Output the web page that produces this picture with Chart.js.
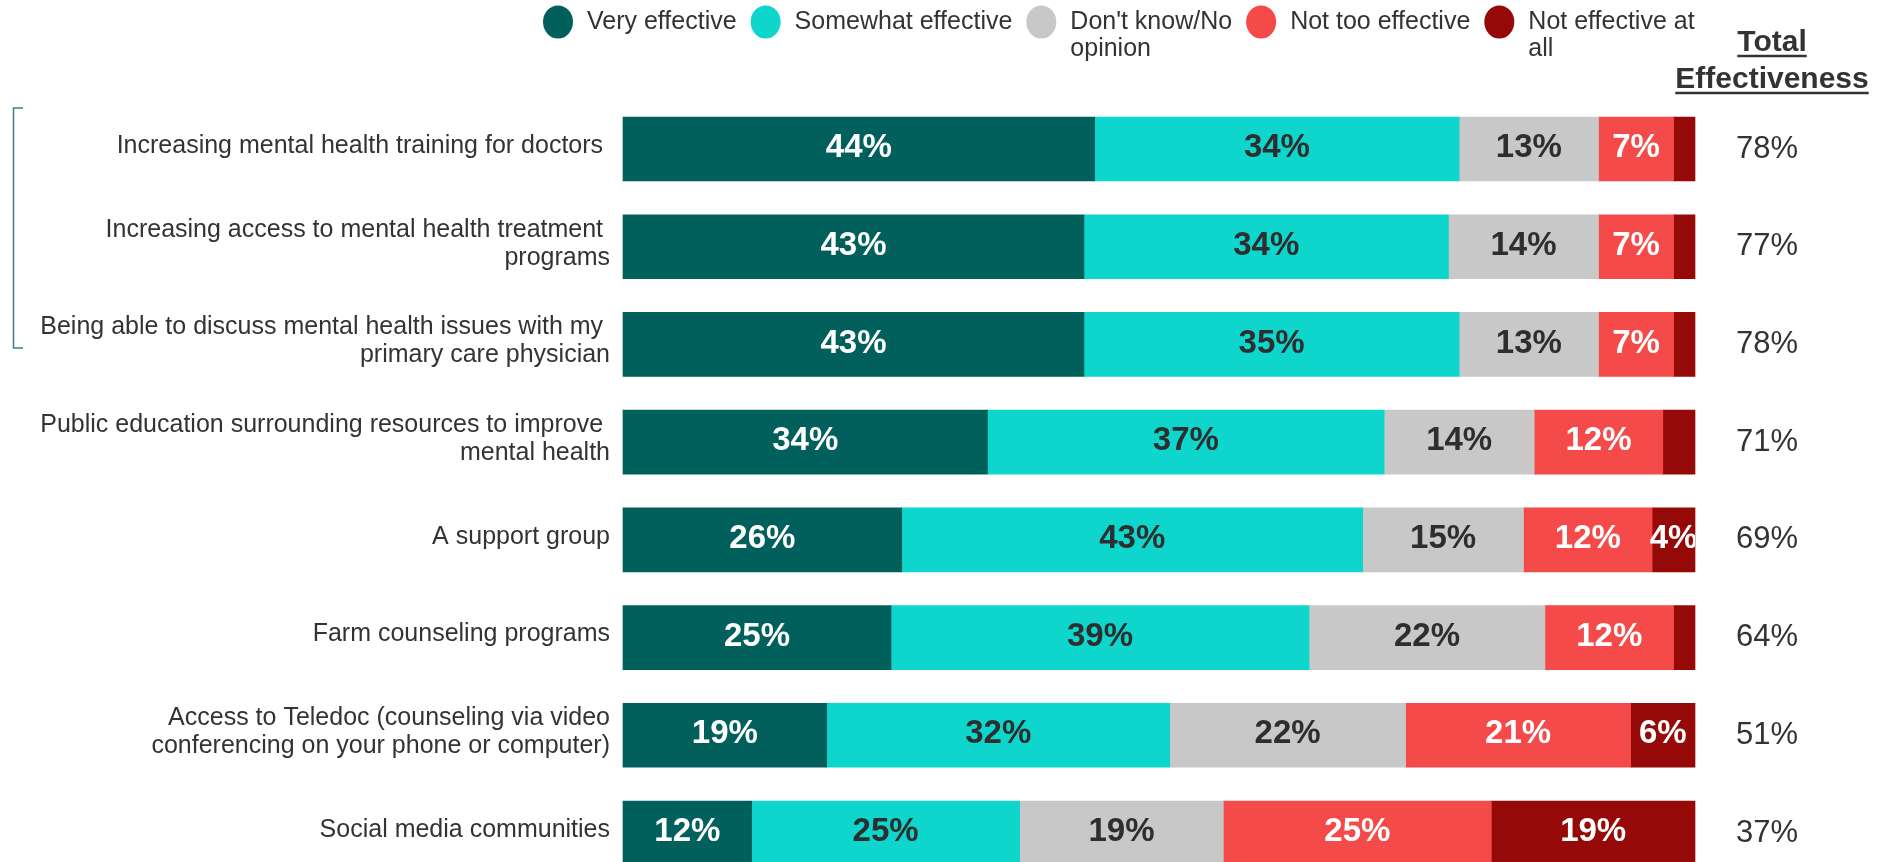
<!DOCTYPE html>
<html>
<head>
<meta charset="utf-8">
<title>Effectiveness of mental health resources</title>
<script src="https://cdn.jsdelivr.net/npm/chart.js@4.4.1/dist/chart.umd.min.js"></script>
<style>
    html, body { margin: 0; padding: 0; background: #ffffff; overflow: hidden; }
    #wrap { position: relative; width: 1895px; height: 862px; }
</style>
</head>
<body>
<div id="wrap"><canvas id="effectChart"></canvas></div>
<script>
// Survey data
const categories = [
    'Increasing mental health training for doctors ',
    ['Increasing access to mental health treatment ', 'programs'],
    ['Being able to discuss mental health issues with my ', 'primary care physician'],
    ['Public education surrounding resources to improve ', 'mental health'],
    'A support group',
    'Farm counseling programs',
    ['Access to Teledoc (counseling via video', 'conferencing on your phone or computer)'],
    'Social media communities'
];

const seriesNames = ['Very effective', 'Somewhat effective', "Don't know/No opinion", 'Not too effective', 'Not effective at all'];
const legendLines = [['Very effective'], ['Somewhat effective'], ["Don't know/No", 'opinion'], ['Not too effective'], ['Not effective at', 'all']];

const veryEffective = [44, 43, 43, 34, 26, 25, 19, 12];
const somewhatEffective = [34, 34, 35, 37, 43, 39, 32, 25];
const dontKnow = [13, 14, 13, 14, 15, 22, 22, 19];
const notTooEffective = [7, 7, 7, 12, 12, 12, 21, 25];
const notEffectiveAtAll = [2, 2, 2, 3, 4, 2, 6, 19];
const totalEffective = [78, 77, 78, 71, 69, 64, 51, 37];

const colors = ['#02605c', '#0ed6cc', '#c8c8c8', '#f44a4a', '#950909'];
const labelColors = ['#ffffff', '#2e2e2e', '#2e2e2e', '#ffffff', '#ffffff'];
const FONT = 'Arial, "Liberation Sans", sans-serif';
const TEXT = '#333333';

// Percent labels centred in each segment (small segments left blank)
const segmentLabels = {
    id: 'segmentLabels',
    afterDatasetsDraw(chart) {
        const { ctx, chartArea } = chart;
        ctx.save();
        ctx.beginPath();
        ctx.rect(chartArea.left, 0, chartArea.right - chartArea.left, chart.height);
        ctx.clip();
        ctx.font = 'bold 33px ' + FONT;
        ctx.textAlign = 'center';
        ctx.textBaseline = 'middle';
        chart.data.datasets.forEach((ds, di) => {
            chart.getDatasetMeta(di).data.forEach((bar, i) => {
                const v = ds.data[i];
                if (v < 4) return;
                const { x, y, base } = bar.getProps(['x', 'y', 'base'], true);
                ctx.fillStyle = labelColors[di];
                ctx.fillText(v + '%', (x + base) / 2, y - 1);
            });
        });
        ctx.restore();
    }
};

// Legend row, total column and bracket
const extras = {
    id: 'extras',
    afterDraw(chart) {
        const { ctx } = chart;
        const yScale = chart.scales.y;
        ctx.save();

        // legend
        ctx.font = '25px ' + FONT;
        ctx.textBaseline = 'middle';
        ctx.textAlign = 'left';
        let x = 558;
        legendLines.forEach((lines, i) => {
            ctx.fillStyle = colors[i];
            ctx.beginPath();
            ctx.ellipse(x, 22, 15, 16.5, 0, 0, Math.PI * 2);
            ctx.fill();
            ctx.fillStyle = TEXT;
            let w = 0;
            lines.forEach((line, li) => {
                ctx.fillText(line, x + 29, 22 + li * 27);
                w = Math.max(w, ctx.measureText(line).width);
            });
            x += 29 + w + 29;
        });

        // header
        ctx.font = 'bold 30px ' + FONT;
        ctx.textAlign = 'center';
        ctx.textBaseline = 'alphabetic';
        ctx.strokeStyle = TEXT;
        ctx.lineWidth = 2.5;
        [['Total', 51], ['Effectiveness', 88]].forEach(([t, by]) => {
            ctx.fillText(t, 1772, by);
            const w = ctx.measureText(t).width;
            ctx.beginPath();
            ctx.moveTo(1772 - w / 2, by + 5);
            ctx.lineTo(1772 + w / 2, by + 5);
            ctx.stroke();
        });

        // total effectiveness values
        ctx.font = '31px ' + FONT;
        ctx.textBaseline = 'middle';
        totalEffective.forEach((v, i) => {
            ctx.fillText(v + '%', 1767, yScale.getPixelForValue(i));
        });

        // bracket around the first three items
        ctx.strokeStyle = '#3b7f8c';
        ctx.lineWidth = 1.5;
        ctx.beginPath();
        ctx.moveTo(23, 108);
        ctx.lineTo(13.5, 108);
        ctx.lineTo(13.5, 348);
        ctx.lineTo(23, 348);
        ctx.stroke();

        ctx.restore();
    }
};

const seriesData = [veryEffective, somewhatEffective, dontKnow, notTooEffective, notEffectiveAtAll];

new Chart(document.getElementById('effectChart'), {
    type: 'bar',
    data: {
        labels: categories,
        datasets: seriesData.map((d, i) => ({
            label: seriesNames[i],
            data: d,
            backgroundColor: colors[i],
            borderWidth: 0,
            barThickness: 64,
            clip: false
        }))
    },
    options: {
        indexAxis: 'y',
        responsive: true,
        maintainAspectRatio: false,
        animation: false,
        layout: { padding: { top: 149, bottom: 29, left: 0, right: 200 } },
        plugins: {
            legend: { display: false },
            tooltip: { enabled: false }
        },
        scales: {
            x: {
                stacked: true,
                min: 0,
                max: 100,
                display: false
            },
            y: {
                stacked: true,
                offset: false,
                grid: { display: false, drawTicks: false, tickLength: 0 },
                border: { display: false },
                ticks: {
                    color: TEXT,
                    padding: 13,
                    labelOffset: -3,
                    font: { size: 25, family: FONT, lineHeight: 1.12 }
                },
                afterFit: scale => { scale.width = 623; }
            }
        }
    },
    plugins: [segmentLabels, extras]
});
</script>
</body>
</html>
